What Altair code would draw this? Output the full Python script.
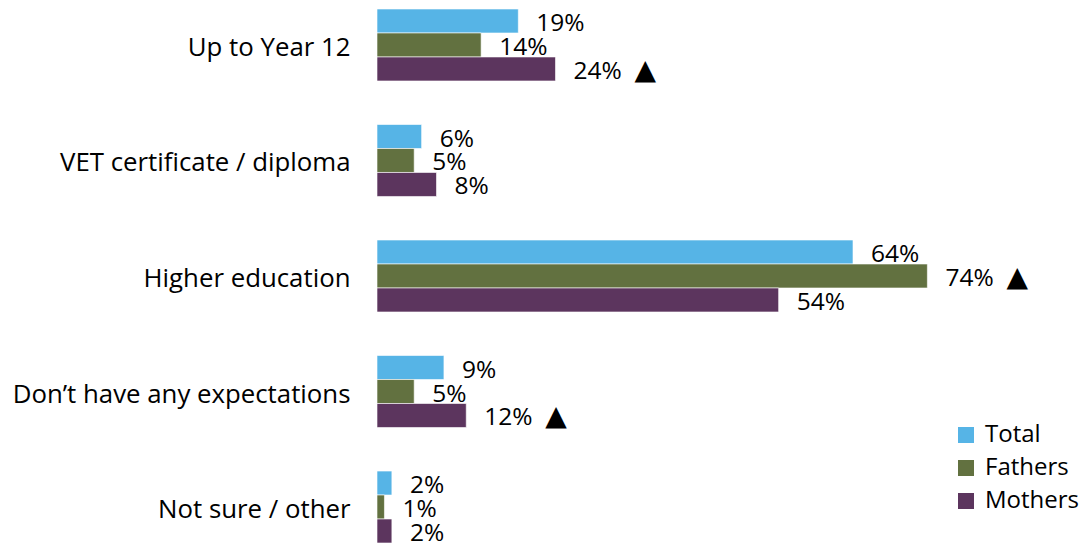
import altair as alt
import pandas as pd

categories = ["Up to Year 12", "VET certificate / diploma", "Higher education",
              "Don’t have any expectations", "Not sure / other"]
series = ["Total", "Fathers", "Mothers"]
total = [19, 6, 64, 9, 2]
fathers = [14, 5, 74, 5, 1]
mothers = [24, 8, 54, 12, 2]
total_flag = [False, False, False, False, False]
fathers_flag = [False, False, True, False, False]
mothers_flag = [True, False, False, True, False]
colors = ["#56B4E6", "#627140", "#5C355E"]

rows = []
for s, vals, flags in zip(series, [total, fathers, mothers], [total_flag, fathers_flag, mothers_flag]):
    for c, v, f in zip(categories, vals, flags):
        rows.append({"category": c, "series": s, "value": v,
                     "label": f"{v}%", "flag": "▲" if f else ""})
df = pd.DataFrame(rows)
df_flags = df[df["flag"] != ""]

FONT = "Open Sans"

y = alt.Y("category:N", sort=categories, title=None,
          scale=alt.Scale(paddingInner=0.377, paddingOuter=0),
          axis=alt.Axis(domain=False, ticks=False, labelPadding=27, labelFontSize=25.8,
                        labelOffset=3,
                        labelFont=FONT, labelColor="#000000", labelLimit=400))
yo = alt.YOffset("series:N", sort=series, scale=alt.Scale(paddingInner=0, paddingOuter=0))
x = alt.X("value:Q", scale=alt.Scale(domain=[0, 80]), axis=None)

bars = alt.Chart(df).mark_bar(stroke="white", strokeWidth=0.6).encode(
    x=x, y=y, yOffset=yo,
    color=alt.Color("series:N", sort=series,
                    scale=alt.Scale(domain=series, range=colors),
                    legend=alt.Legend(title=None, orient="none", legendX=577, legendY=414,
                                      symbolType="square", symbolSize=256, symbolStrokeWidth=0,
                                      labelFontSize=24, labelFont=FONT, labelColor="#000000",
                                      rowPadding=9, labelOffset=7)),
)

text = alt.Chart(df).mark_text(align="left", baseline="middle", dx=18, dy=3,
                               fontSize=24.5, font=FONT, color="#000000").encode(
    x=x, y=y, yOffset=yo, text="label:N"
)

flags = alt.Chart(df_flags).mark_text(align="left", baseline="middle", dx=79, dy=2,
                                      fontSize=28, font="DejaVu Sans", color="#000000").encode(
    x=x, y=y, yOffset=yo, text="flag:N"
)

chart = (bars + text + flags).properties(
    width=595, height=534,
    autosize=alt.AutoSizeParams(type="none"),
    padding={"left": 369, "top": 1, "right": 109, "bottom": 0},
).configure(background="white").configure_view(strokeWidth=0, stroke="transparent")

chart.save("out.html", embed_options={"renderer": "svg", "actions": False})
